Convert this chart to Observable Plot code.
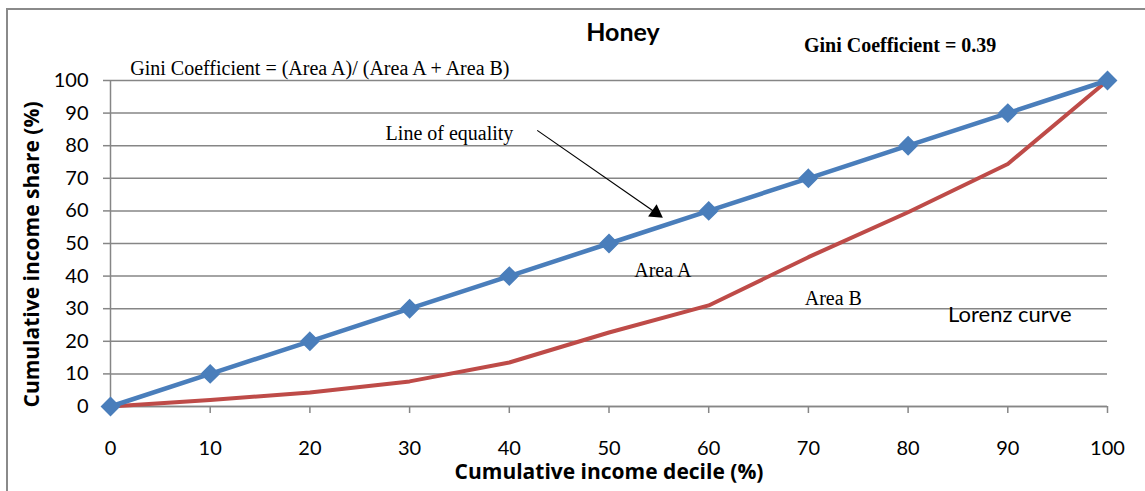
<!DOCTYPE html>
<html>
<head>
<meta charset="utf-8">
<script src="https://cdn.jsdelivr.net/npm/d3@7"></script>
<script src="https://cdn.jsdelivr.net/npm/@observablehq/plot@0.6"></script>
<style>
  html, body { margin: 0; padding: 0; background: #fff; }
  #wrap { position: relative; width: 1145px; height: 491px; overflow: hidden; }
  #border { position: absolute; left: 6px; top: 8px; width: 1150px; height: 500px; border: 2px solid #8a8a8a; box-sizing: border-box; pointer-events: none; }
  svg { display: block; }
</style>
</head>
<body>
<div id="wrap"><div id="border"></div></div>
<script>
// Data
const deciles = [0, 10, 20, 30, 40, 50, 60, 70, 80, 90, 100];
const equality = [0, 10, 20, 30, 40, 50, 60, 70, 80, 90, 100];
const lorenz = [0, 2, 4.3, 7.7, 13.5, 22.7, 31, 45.8, 59.6, 74.4, 100];
const yTicks = [0, 10, 20, 30, 40, 50, 60, 70, 80, 90, 100];
const xTicks = [0, 10, 20, 30, 40, 50, 60, 70, 80, 90, 100];

const titleText = "Honey";
const giniValueText = "Gini Coefficient = 0.39";
const xLabel = "Cumulative income decile (%)";
const yLabel = "Cumulative income share (%)";

// Annotation anchors (data units)
const serifNotes = [
  {text: "Gini Coefficient = (Area A)/ (Area A + Area B)", x: 21.0, y: 103.7},
  {text: "Line of equality", x: 34, y: 83.7},
  {text: "Area A", x: 55.4, y: 41.7},
  {text: "Area B", x: 72.5, y: 33.1}
];
const arrowFrom = {x: 42.8, y: 84.7};
const arrowTo = {x: 54.7, y: 59.4};

const eqData = deciles.map((d, i) => ({x: d, y: equality[i]}));
const lzData = deciles.map((d, i) => ({x: d, y: lorenz[i]}));

const grey = "#868686";
const blue = "#4a7ebb";
const red = "#be4b48";
const sans = "Lato, 'Open Sans', sans-serif";
const labelFont = "'Open Sans', Lato, sans-serif";
const serif = "'Liberation Serif', 'DejaVu Serif', serif";

const chart = Plot.plot({
  width: 1145,
  height: 491,
  marginLeft: 110,
  marginRight: 38,
  marginTop: 80,
  marginBottom: 85,
  style: {fontFamily: sans, fontSize: "20px", color: "#000", background: "transparent"},
  x: {domain: [0, 100], ticks: xTicks},
  y: {domain: [0, 100], ticks: yTicks},
  marks: [
    Plot.gridY(yTicks, {stroke: grey, strokeOpacity: 1, strokeWidth: 1.5}),
    Plot.axisY(yTicks, {tickSize: 7, tickPadding: 15, stroke: grey, strokeWidth: 1.5, label: null, fontSize: 20, fill: "#000"}),
    Plot.axisX(xTicks, {tickSize: 7, tickPadding: 27, stroke: grey, strokeWidth: 1.5, label: null, fontSize: 20, fill: "#000"}),
    Plot.ruleX([0], {stroke: grey, strokeWidth: 1.5}),
    Plot.ruleY([0], {stroke: grey, strokeWidth: 1.5}),
    Plot.line(lzData, {x: "x", y: "y", stroke: red, strokeWidth: 4}),
    Plot.line(eqData, {x: "x", y: "y", stroke: blue, strokeWidth: 4.5}),
    Plot.dot(eqData, {x: "x", y: "y", symbol: "diamond2", r: 8, fill: blue, stroke: blue}),
    Plot.link([{x1: arrowFrom.x, y1: arrowFrom.y, x2: arrowTo.x, y2: arrowTo.y}], {x1: "x1", y1: "y1", x2: "x2", y2: "y2", stroke: "#000", strokeWidth: 1.2}),
    Plot.dot([arrowTo], {x: "x", y: "y", symbol: "triangle", r: 5.5, fill: "#000", rotate: 125}),
    Plot.text(serifNotes, {x: "x", y: "y", text: "text", fontFamily: serif, fontSize: 20, fill: "#000"}),
    Plot.text([titleText], {x: 51.4, y: 114.7, fontFamily: sans, fontWeight: "bold", fontSize: 25, fill: "#000"}),
    Plot.text([giniValueText], {x: 79.2, y: 110.7, fontFamily: serif, fontWeight: "bold", fontSize: 20, fill: "#000"}),
    Plot.text(["Lorenz curve"], {x: 90.2, y: 28.2, fontFamily: sans, fontSize: 22, fill: "#000", style: "letter-spacing: 0.6px"}),
    Plot.text([yLabel], {frameAnchor: "left", dx: -78, dy: 11, rotate: -90, textAnchor: "middle", lineAnchor: "middle", fontFamily: labelFont, fontWeight: "bold", fontSize: 21, fill: "#000"}),
    Plot.text([xLabel], {frameAnchor: "bottom", dy: 66, textAnchor: "middle", lineAnchor: "middle", fontFamily: labelFont, fontWeight: "bold", fontSize: 21, fill: "#000"})
  ]
});
document.getElementById("wrap").prepend(chart);
</script>
</body>
</html>
